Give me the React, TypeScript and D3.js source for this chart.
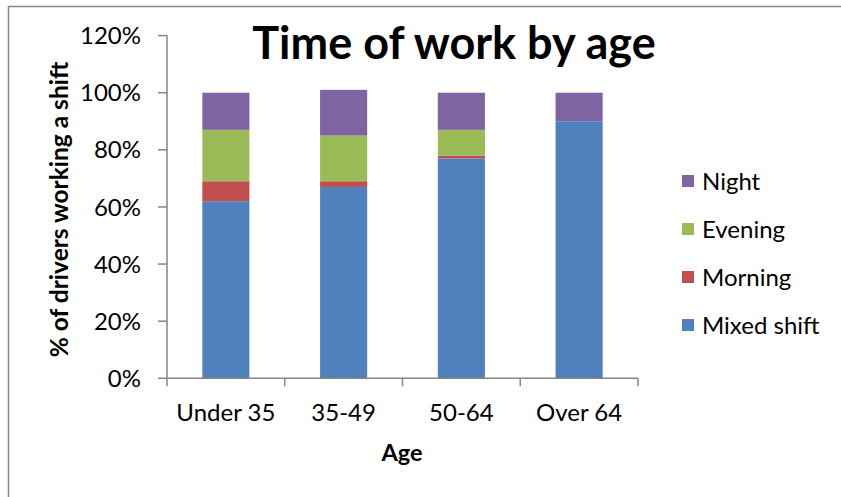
import React from "react";
import * as d3 from "d3";

const categories = ["Under 35", "35-49", "50-64", "Over 64"];
const seriesNames = ["Mixed shift", "Morning", "Evening", "Night"];
const mixedShift = [62, 67, 77, 90];
const morning = [7, 2, 1, 0];
const evening = [18, 16, 9, 0];
const night = [13, 16, 13, 10];
const yTicks = [0, 20, 40, 60, 80, 100, 120];
const colors = ["#4F81BD", "#C0504D", "#9BBB59", "#8064A2"];

const W = 841;
const H = 497;
const FONT = "Lato, 'Open Sans', sans-serif";
const FS = 24;

export default function App() {
  const seriesValues = [mixedShift, morning, evening, night];
  const rows = categories.map((c, i) => {
    const r: any = { cat: c };
    seriesNames.forEach((s, j) => (r[s] = seriesValues[j][i]));
    return r;
  });
  const stacked = d3.stack().keys(seriesNames)(rows);

  const x = d3.scaleBand().domain(categories).range([167, 638]).paddingInner(0.6).paddingOuter(0.3);
  const y = d3.scaleLinear().domain([0, 120]).range([378.3, 35.6]);
  const step = x.step();
  const x0 = 167;
  const boundaries = d3.range(categories.length + 1).map((i) => x0 + i * step);
  const axisColor = "#868686";

  const legendOrder = [...seriesNames].reverse();

  return (
    <svg width={W} height={H} style={{ position: "absolute", left: 0, top: 0, background: "#fff" }}>
      <rect x={0} y={0} width={W} height={H} fill="#fff" />
      <rect x={8.5} y={6.5} width={W + 20} height={H + 20} fill="none" stroke="#888" strokeWidth={1.5} />

      {/* title */}
      <text x={454} y={59} textAnchor="middle" fontFamily={FONT} fontWeight="bold" fontSize={45} fill="#000">
        Time of work by age
      </text>

      {/* bars */}
      {stacked.map((s, si) => (
        <g key={s.key} fill={colors[si]}>
          {s.map((d, i) =>
            d[1] - d[0] > 0 ? (
              <rect
                key={i}
                x={x(categories[i])}
                y={y(d[1])}
                width={x.bandwidth()}
                height={y(d[0]) - y(d[1])}
              />
            ) : null
          )}
        </g>
      ))}

      {/* y axis */}
      <line x1={167} x2={167} y1={y(120)} y2={y(0)} stroke={axisColor} strokeWidth={1.5} />
      {yTicks.map((t) => (
        <g key={t}>
          <line x1={158} x2={167} y1={y(t)} y2={y(t)} stroke={axisColor} strokeWidth={1.5} />
          <text x={141} y={y(t)} dy="0.36em" textAnchor="end" fontFamily={FONT} fontSize={FS} fill="#000">
            {t + "%"}
          </text>
        </g>
      ))}

      {/* x axis */}
      <line x1={167} x2={boundaries[boundaries.length - 1]} y1={y(0)} y2={y(0)} stroke={axisColor} strokeWidth={1.5} />
      {boundaries.map((b, i) => (
        <line key={i} x1={b} x2={b} y1={y(0)} y2={y(0) + 8} stroke={axisColor} strokeWidth={1.5} />
      ))}
      {categories.map((c) => (
        <text key={c} x={(x(c) as number) + x.bandwidth() / 2} y={421} textAnchor="middle" fontFamily={FONT} fontSize={FS} fill="#000">
          {c}
        </text>
      ))}

      {/* axis titles */}
      <text x={402} y={461} textAnchor="middle" fontFamily={FONT} fontWeight="bold" fontSize={23.5} fill="#000">
        Age
      </text>
      <text
        transform={`translate(68,${(62 + 357) / 2}) rotate(-90)`}
        textAnchor="middle"
        fontFamily={FONT}
        fontWeight="bold"
        fontSize={24.5}
        fill="#000"
      >
        % of drivers working a shift
      </text>

      {/* legend */}
      {legendOrder.map((name, i) => {
        const cy = 181 + i * 48;
        const ci = seriesNames.indexOf(name);
        return (
          <g key={name}>
            <rect x={682} y={cy - 6} width={12} height={12} fill={colors[ci]} />
            <text x={702} y={cy} dy="0.36em" fontFamily={FONT} fontSize={FS} fill="#000">
              {name}
            </text>
          </g>
        );
      })}
    </svg>
  );
}
